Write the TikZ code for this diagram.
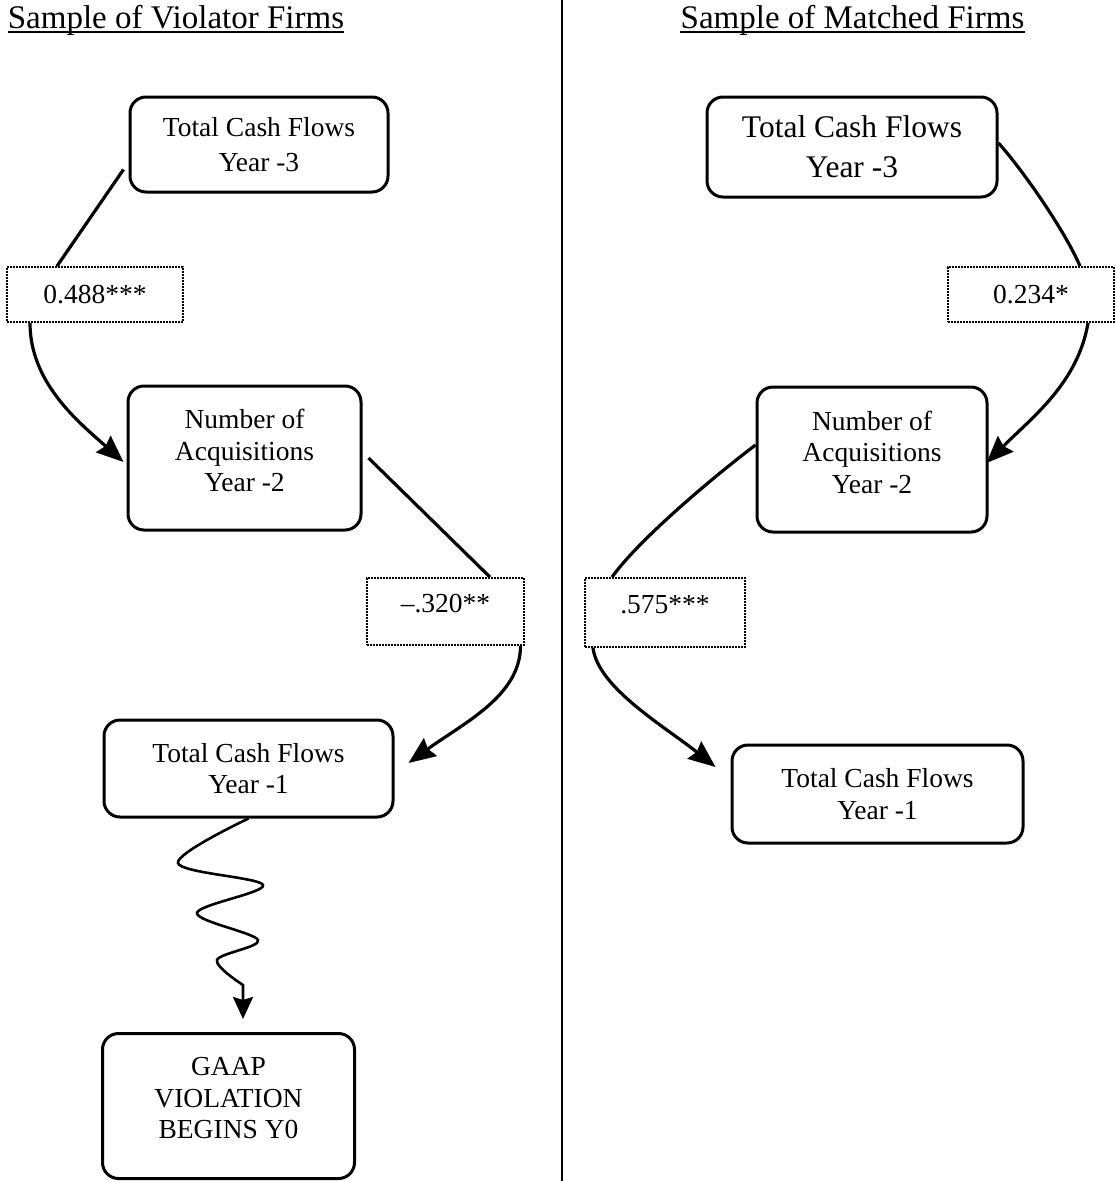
\documentclass[tikz,border=0pt]{standalone}
\usepackage{fontspec}
\setmainfont{Liberation Serif}
\usetikzlibrary{arrows.meta,calc}
\begin{document}
\begin{tikzpicture}[x=1pt,y=-1pt,
 box/.style={draw, line width=3pt, rounded corners=16pt, align=center, inner sep=0pt, font=\fontsize{27.5}{31.5}\selectfont},
 lab/.style={draw, line width=1.8pt, dash pattern=on 1.6pt off 1.4pt, inner sep=0pt, font=\fontsize{27.5}{31}\selectfont},
 arr/.style={line width=3.2pt, -{Stealth[length=27pt,width=22pt,inset=3pt]}},
 ln/.style={line width=3.2pt},
 head/.style={font=\fontsize{33}{36}\selectfont, inner sep=0pt, anchor=base}]
\useasboundingbox (0,0) rectangle (1116,1181);
\fill[white] (0,0) rectangle (1116,1181);

% divider
\draw[line width=2.2pt] (562,0) -- (562,1181);

% headers
\node[head] (H1) at (176,28) {Sample of Violator Firms};
\node[head] (H2) at (852.5,28) {Sample of Matched Firms};
\draw[line width=1.6pt] ([yshift=-4pt]H1.base west) -- ([yshift=-4pt]H1.base east);
\draw[line width=1.6pt] ([yshift=-4pt]H2.base west) -- ([yshift=-4pt]H2.base east);

% left column
\node[box, minimum width=258pt, minimum height=95pt, font=\fontsize{27.5}{35}\selectfont] (LTCF3) at (259,144.5) {Total Cash Flows\\Year -3};
\node[lab, minimum width=176pt, minimum height=55pt] (Llab1) at (95,294.5) {0.488***};
\node[box, minimum width=233pt, minimum height=144pt, text depth=15pt] (LNAq) at (244.5,458) {Number of\\Acquisitions\\Year -2};
\node[lab, minimum width=157pt, minimum height=67pt, text depth=16pt] (Llab2) at (445.5,611.5) {--.320**};
\node[box, minimum width=289pt, minimum height=97pt] (LTCF1) at (248.5,768.5) {Total Cash Flows\\Year -1};
\node[box, minimum width=252pt, minimum height=145pt, text depth=16pt] (GAAP) at (228.5,1106) {GAAP\\VIOLATION\\BEGINS Y0};

\draw[ln] ([xshift=-5pt,yshift=-25pt]LTCF3.west) -- ([xshift=-38pt]Llab1.north);
\draw[arr] ([xshift=-65pt]Llab1.south) .. controls +(0,60) and +(-45,-40) .. ([xshift=-3pt,yshift=-4pt]LNAq.west);
\draw[ln] ([xshift=6pt]LNAq.east) -- ([xshift=44.5pt]Llab2.north);
\draw[arr] ([xshift=75pt]Llab2.south) .. controls +(0,50) and +(55,-40) .. ([xshift=14pt,yshift=5.5pt]LTCF1.east);
\draw[line width=2.6pt, -{Stealth[length=22pt,width=20pt,inset=3pt]}] plot[smooth, tension=0.55] coordinates {(LTCF1.south) (178,863) (263,885) (197,913) (258,940) (217,960) (243,985)} -- ([xshift=14.5pt,yshift=13pt]GAAP.north);

% right column
\node[box, minimum width=290pt, minimum height=100pt, font=\fontsize{31.5}{40}\selectfont] (RTCF3) at (852,147) {Total Cash Flows\\Year -3};
\node[lab, minimum width=166pt, minimum height=55pt] (Rlab1) at (1031,294.5) {0.234*};
\node[box, minimum width=230pt, minimum height=145pt, text depth=15pt] (RNAq) at (872,459.5) {Number of\\Acquisitions\\Year -2};
\node[lab, minimum width=160pt, minimum height=69pt, text depth=16pt] (Rlab2) at (665,612.5) {.575***};
\node[box, minimum width=291pt, minimum height=98pt] (RTCF1) at (877.5,794) {Total Cash Flows\\Year -1};

\draw[ln] ([yshift=4pt]RTCF3.east) .. controls +(25,28) and +(-15,-35) .. ([xshift=49pt]Rlab1.north);
\draw[arr] ([xshift=57pt]Rlab1.south) .. controls +(-10,60) and +(45,-45) .. ([xshift=-2pt,yshift=-3.5pt]RNAq.east);
\draw[ln] ([yshift=14.5pt]RNAq.west) .. controls +(-50,38) and +(25,-35) .. ([xshift=-53pt]Rlab2.north);
\draw[arr] ([xshift=-72pt]Rlab2.south) .. controls +(5,40) and +(-50,-40) .. ([xshift=-15pt,yshift=27pt]RTCF1.west);
\end{tikzpicture}
\end{document}
